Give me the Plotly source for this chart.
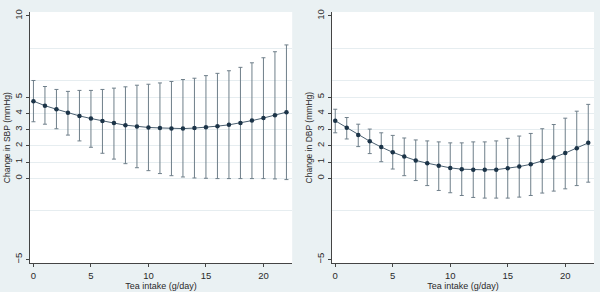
import plotly.graph_objects as go
from plotly.subplots import make_subplots

tea = list(range(0, 23))

sbp_est = [4.75, 4.47, 4.25, 4.04, 3.84, 3.68, 3.52, 3.40, 3.27, 3.19, 3.13, 3.10,
           3.06, 3.06, 3.09, 3.14, 3.21, 3.29, 3.41, 3.55, 3.71, 3.88, 4.07]
sbp_hi = [6.02, 5.65, 5.47, 5.35, 5.41, 5.41, 5.47, 5.55, 5.63, 5.73, 5.79, 5.87,
          5.96, 6.08, 6.16, 6.32, 6.46, 6.62, 6.83, 7.11, 7.42, 7.79, 8.21]
sbp_lo = [3.48, 3.33, 3.05, 2.66, 2.30, 1.91, 1.54, 1.18, 0.90, 0.65, 0.47, 0.29,
          0.16, 0.08, 0.02, 0.00, -0.02, -0.02, -0.02, -0.02, -0.02, -0.04, -0.08]

dbp_est = [3.54, 3.11, 2.66, 2.28, 1.92, 1.60, 1.34, 1.10, 0.93, 0.77, 0.64, 0.56,
           0.52, 0.52, 0.53, 0.61, 0.72, 0.86, 1.07, 1.28, 1.55, 1.85, 2.18]
dbp_hi = [4.25, 3.74, 3.33, 3.03, 2.80, 2.64, 2.48, 2.36, 2.30, 2.24, 2.18, 2.18,
          2.24, 2.24, 2.30, 2.46, 2.60, 2.76, 3.05, 3.31, 3.70, 4.13, 4.55]
dbp_lo = [2.80, 2.42, 1.95, 1.52, 1.02, 0.57, 0.16, -0.14, -0.45, -0.75, -0.89, -1.06,
          -1.18, -1.22, -1.22, -1.22, -1.16, -1.06, -0.91, -0.79, -0.65, -0.45, -0.24]

y_ticks = [-5, 0, 1, 2, 3, 4, 5, 10]
y_grid = [-2, 0, 1, 2, 3, 4, 5, 6, 8]
x_ticks = [0, 5, 10, 15, 20]

panels = [
    (sbp_est, sbp_hi, sbp_lo, "Change in SBP (mmHg)"),
    (dbp_est, dbp_hi, dbp_lo, "Change in DBP (mmHg)"),
]

fig = make_subplots(rows=1, cols=2)

LINE = "#4A5F70"
MARK = "#1C3448"
ERR = "#6F7F8A"
TEXT = "#2A2A2A"
FONT = "Liberation Sans, Arial, sans-serif"

for i, (est, hi, lo, title) in enumerate(panels, start=1):
    plus = [h - e for h, e in zip(hi, est)]
    minus = [e - l for e, l in zip(est, lo)]
    fig.add_trace(go.Scatter(
        x=tea, y=est, mode="markers",
        marker=dict(size=0.1, color="rgba(0,0,0,0)"),
        error_y=dict(type="data", array=plus, arrayminus=minus, symmetric=False,
                     color=ERR, thickness=1, width=2),
        showlegend=False, hoverinfo="skip"), row=1, col=i)
    fig.add_trace(go.Scatter(
        x=tea, y=est, mode="lines+markers",
        line=dict(color=LINE, width=1),
        marker=dict(size=4.5, color=MARK),
        showlegend=False), row=1, col=i)

    fig.update_xaxes(
        row=1, col=i, range=[-0.3, 22.5], tickvals=x_ticks,
        ticks="outside", ticklen=3, tickcolor="#444", showline=True,
        linecolor="#444", linewidth=1, showgrid=False, zeroline=False,
        tickfont=dict(size=9.5, color=TEXT, family=FONT),
        title=dict(text="Tea intake (g/day)", standoff=0,
                   font=dict(size=9, color=TEXT, family=FONT)))
    fig.update_yaxes(
        row=1, col=i, range=[-5.24, 10.24], tickvals=y_ticks,
        ticks="outside", ticklen=3, tickcolor="#444", showline=True,
        linecolor="#444", linewidth=1, showgrid=False, zeroline=False,
        tickangle=-90,
        tickfont=dict(size=9.5, color=TEXT, family=FONT),
        minor=dict(tickmode="array", tickvals=y_grid, showgrid=True,
                   gridcolor="#E6EDF0", gridwidth=1, ticks=""),
        title=dict(text=title, standoff=1,
                   font=dict(size=8.5, color=TEXT, family=FONT)))

fig.update_layout(
    width=600, height=292,
    margin=dict(l=0, r=0, t=0, b=0),
    paper_bgcolor="#EAF1F3",
    plot_bgcolor="#FFFFFF",
    xaxis=dict(domain=[0.05, 0.487]),
    xaxis2=dict(domain=[0.553, 0.99]),
    yaxis=dict(domain=[0.099, 0.969]),
    yaxis2=dict(domain=[0.099, 0.969]),
    font=dict(family=FONT, color=TEXT),
)

fig.write_html("out.html",
               config={"displayModeBar": False},
               post_script="document.body.style.margin='0px';"
                           "document.body.style.background='#EAF1F3';")
